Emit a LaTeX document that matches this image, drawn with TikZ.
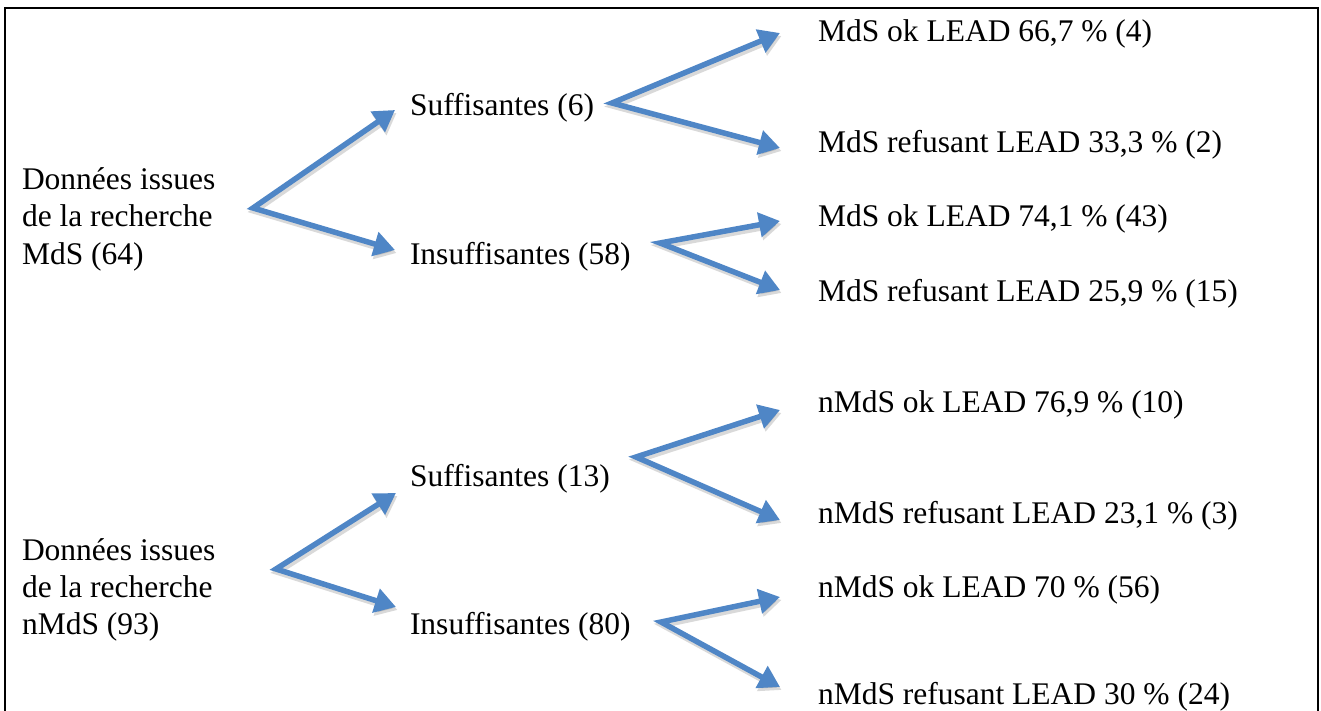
\documentclass[tikz,border=0pt]{standalone}
\usepackage{fontspec}
\setmainfont{Liberation Serif}
\usetikzlibrary{arrows.meta}
\definecolor{arrowblue}{RGB}{79,134,198}
\begin{document}
\begin{tikzpicture}[x=1pt,y=-1pt,
  lbl/.style={anchor=base west, inner sep=0pt, outer sep=0pt, font=\fontsize{31.5}{37}\selectfont},
  multi/.style={lbl, align=left},
  tipstyle/.style={{Triangle[length=21pt,width=24pt]}-{Triangle[length=21pt,width=24pt]}},
  link/.style={draw=arrowblue, line width=5.5pt, line join=miter, tipstyle},
  linkshadow/.style={draw=black, opacity=0.15, line width=6pt, line join=miter, tipstyle,
    transform canvas={shift={(1.5,3)}}}
]
\useasboundingbox (0,0) rectangle (1321,711);
\draw[line width=2pt] (5,711) -- (5,8) -- (1318,8) -- (1318,711);

% labels
\node[multi] (r1) at (22,264) {Données issues\\de la recherche\\MdS (64)};
\node[lbl] (s1) at (410,116) {Suffisantes (6)};
\node[lbl] (i1) at (410,264) {Insuffisantes (58)};
\node[lbl] (a1) at (818,42)  {MdS ok LEAD 66,7 \% (4)};
\node[lbl] (a2) at (818,153) {MdS refusant LEAD 33,3 \% (2)};
\node[lbl] (a3) at (818,227) {MdS ok LEAD 74,1 \% (43)};
\node[lbl] (a4) at (818,301) {MdS refusant LEAD 25,9 \% (15)};

\node[multi] (r2) at (22,634) {Données issues\\de la recherche\\nMdS (93)};
\node[lbl] (s2) at (410,486) {Suffisantes (13)};
\node[lbl] (i2) at (410,634) {Insuffisantes (80)};
\node[lbl] (a5) at (818,412) {nMdS ok LEAD 76,9 \% (10)};
\node[lbl] (a6) at (818,523) {nMdS refusant LEAD 23,1 \% (3)};
\node[lbl] (a7) at (818,597) {nMdS ok LEAD 70 \% (56)};
\node[lbl] (a8) at (818,704) {nMdS refusant LEAD 30 \% (24)};

% connector points
\coordinate (r1o) at (253,208);
\coordinate (s1i) at (395,110);
\coordinate (i1i) at (395,250);
\coordinate (s1o) at (612,103);
\coordinate (a1i) at (780,33);
\coordinate (a2i) at (780,148);
\coordinate (i1o) at (660,243);
\coordinate (a3i) at (780,221);
\coordinate (a4i) at (780,290);
\coordinate (r2o) at (276,569);
\coordinate (s2i) at (396,493);
\coordinate (i2i) at (396,607);
\coordinate (s2o) at (636,457);
\coordinate (a5i) at (780,410);
\coordinate (a6i) at (780,520);
\coordinate (i2o) at (661,622);
\coordinate (a7i) at (780,597);
\coordinate (a8i) at (780,687);

% shadows
\foreach \u/\o/\l in {s1i/r1o/i1i, a1i/s1o/a2i, a3i/i1o/a4i, s2i/r2o/i2i, a5i/s2o/a6i, a7i/i2o/a8i}{
  \draw[linkshadow] (\u) -- (\o) -- (\l);
}
% arrows
\foreach \u/\o/\l in {s1i/r1o/i1i, a1i/s1o/a2i, a3i/i1o/a4i, s2i/r2o/i2i, a5i/s2o/a6i, a7i/i2o/a8i}{
  \draw[link] (\u) -- (\o) -- (\l);
}
\end{tikzpicture}
\end{document}
